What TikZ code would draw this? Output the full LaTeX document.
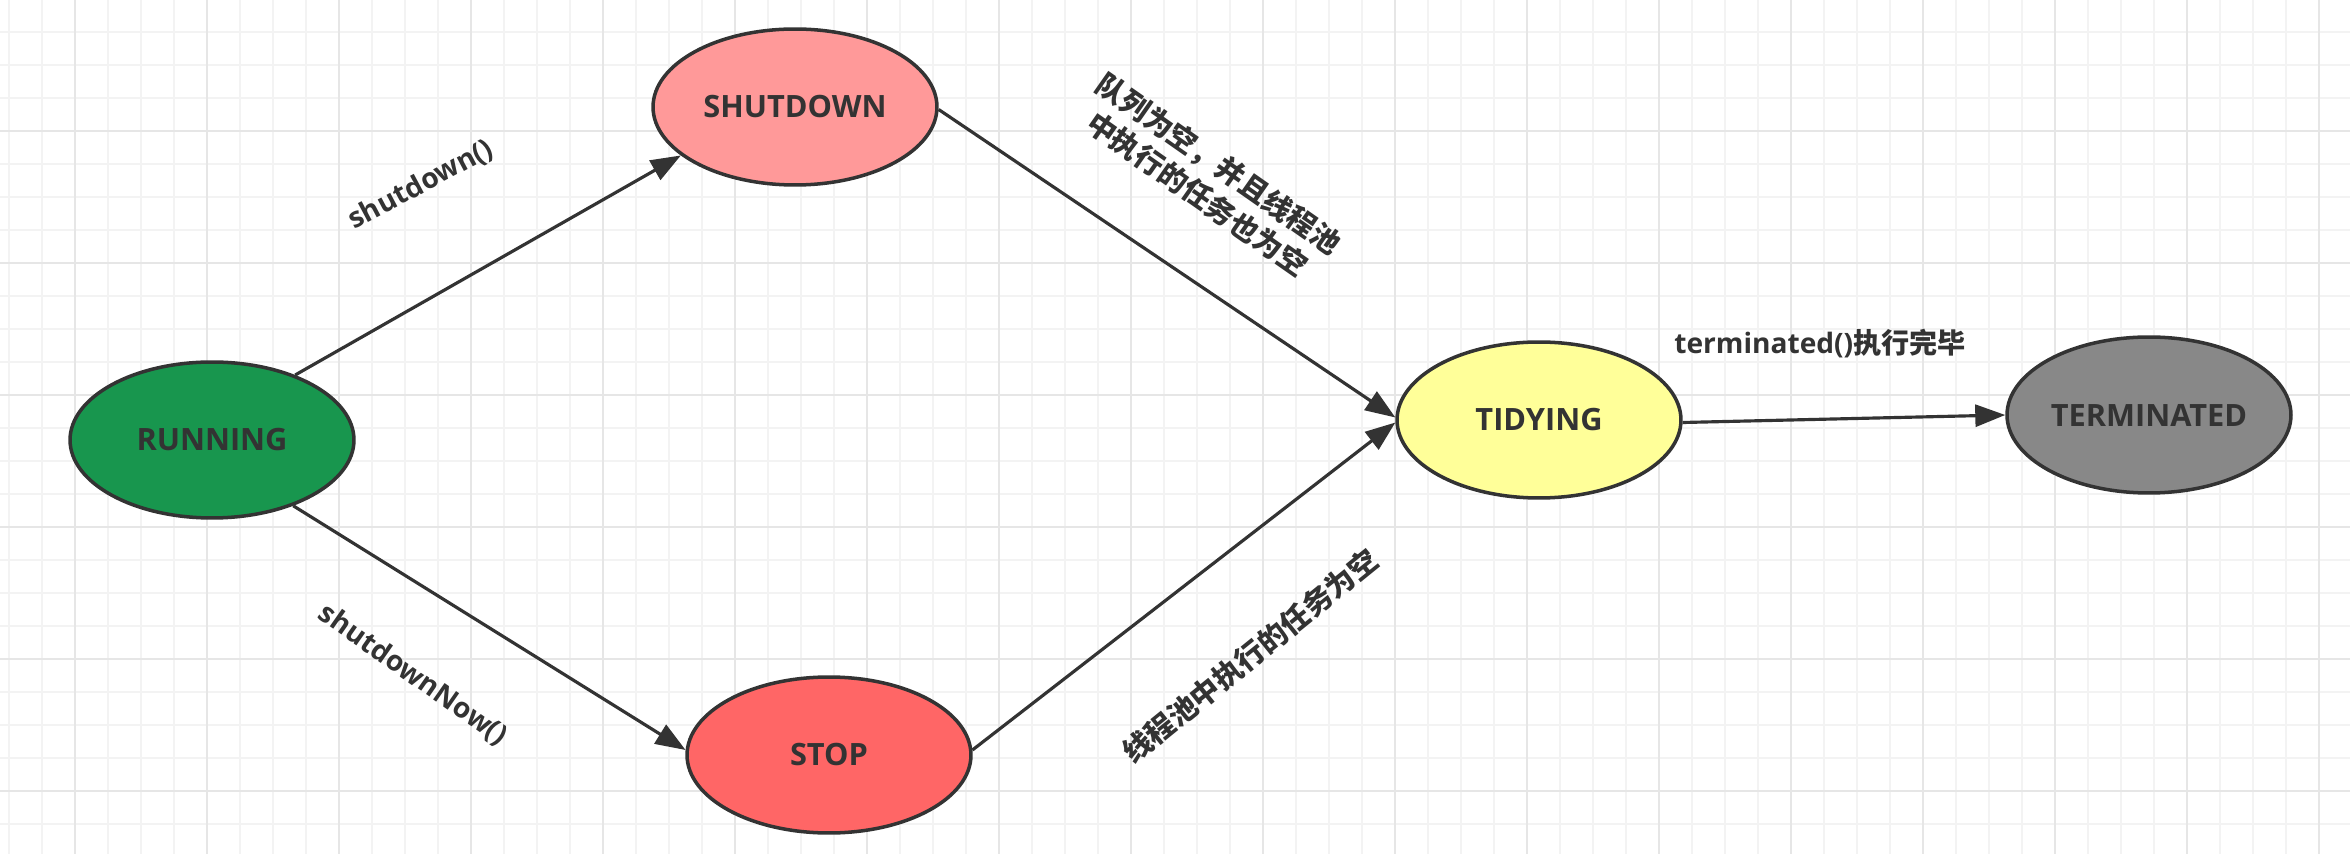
\documentclass[tikz,border=0pt]{standalone}
\usepackage{fontspec}
\setmainfont{Open Sans}
\newfontfamily\cjk{Noto Sans CJK SC}
\usetikzlibrary{shapes.geometric,arrows.meta}

\definecolor{linegray}{HTML}{333333}
\definecolor{textgray}{HTML}{333333}
\definecolor{gridminor}{HTML}{F3F3F3}
\definecolor{gridmajor}{HTML}{E6E6E6}
\definecolor{runfill}{RGB}{24,150,78}
\definecolor{shutfill}{HTML}{FF9999}
\definecolor{stopfill}{HTML}{FF6666}
\definecolor{tidyfill}{HTML}{FFFF99}
\definecolor{termfill}{HTML}{888888}

\tikzset{
  statenode/.style={ellipse, draw=linegray, line width=2pt, inner sep=0pt,
    minimum width=5.68cm, minimum height=3.12cm, text=textgray,
    font=\fontsize{17.5}{21}\selectfont\bfseries},
  trans/.style={draw=linegray, line width=1.8pt, -{Triangle[length=0.6cm,width=0.44cm]}},
  lbl/.style={text=textgray, inner sep=0pt, font=\fontsize{16}{20}\selectfont\bfseries},
  cjklbl/.style={text=textgray, inner sep=0pt, align=center,
    font=\cjk\fontsize{16.5}{21}\selectfont\bfseries},
}

\begin{document}
\begin{tikzpicture}[x=0.02cm, y=-0.02cm]
    \useasboundingbox (0,0) rectangle (2350,854);
    \fill[white] (0,0) rectangle (2350,854);
    % grid
    \foreach \gx in {9,42,...,2349}{
        \draw[gridminor, line width=1pt] (\gx,0) -- (\gx,854);
    }
    \foreach \gy in {-1,32,...,854}{
        \draw[gridminor, line width=1pt] (0,\gy) -- (2350,\gy);
    }
    \foreach \gx in {75,207,...,2349}{
        \draw[gridmajor, line width=1.1pt] (\gx,0) -- (\gx,854);
    }
    \foreach \gy in {-1,131,...,854}{
        \draw[gridmajor, line width=1.1pt] (0,\gy) -- (2350,\gy);
    }

    \node[statenode, fill=runfill] (running) at (212,440) {RUNNING};
    \node[statenode, fill=shutfill] (shutdown) at (795,107) {SHUTDOWN};
    \node[statenode, fill=stopfill] (stop) at (829,755) {STOP};
    \node[statenode, fill=tidyfill] (tidying) at (1539,420) {TIDYING};
    \node[statenode, fill=termfill] (terminated) at (2149,415) {TERMINATED};

    \draw[trans] (running.38) -- (shutdown.203);
    \draw[trans] (running.-39) -- (stop.178);
    \draw[trans] (shutdown.-1) -- (tidying.179);
    \draw[trans] (stop.2) -- (tidying.181);
    \draw[trans] (tidying.-1) -- (terminated.180);

    \node[lbl, rotate=28] (lblshut) at (421,185) {shutdown()};
    \node[lbl, rotate=-35] (lblnow) at (413,675) {shutdownNow()};
    \node[cjklbl, rotate=-35] (lblempty) at (1208,179) {队列为空，并且线程池\\中执行的任务也为空};
    \node[cjklbl, rotate=39] (lblpool) at (1250,656) {线程池中执行的任务为空};
    \node[lbl] (lblterm) at (1820,344) {terminated(){\cjk 执行完毕}};
\end{tikzpicture}
\end{document}
